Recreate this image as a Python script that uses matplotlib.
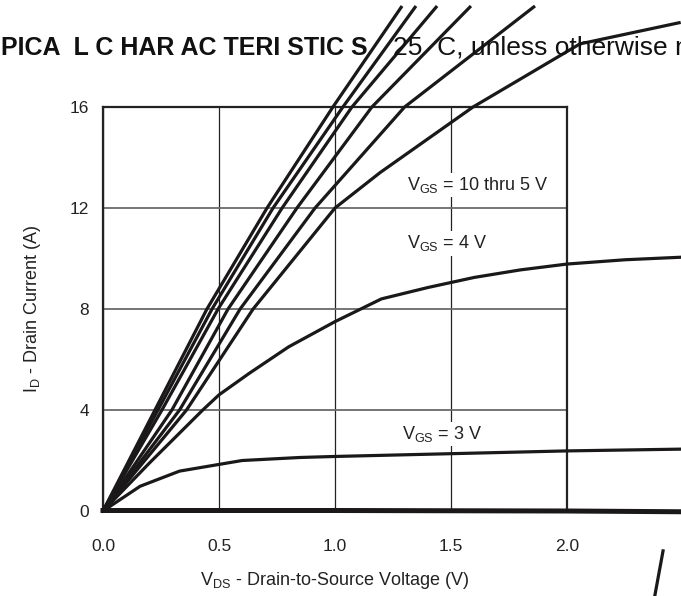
#!/usr/bin/env python3

import matplotlib; matplotlib.use('Agg')
import matplotlib.pyplot as plt

plt.rcParams['font.family'] = ['Liberation Sans', 'DejaVu Sans']
plt.rcParams['mathtext.fontset'] = 'custom'
plt.rcParams['mathtext.rm'] = 'Liberation Sans'

# Output characteristics (V_DS in V, I_D in A)
steep_curves = [
  ([0, 0.224, 0.448, 0.707, 0.991, 1.289], [0, 4, 8, 12, 16, 20]),
  ([0, 0.237, 0.470, 0.733, 1.034, 1.349], [0, 4, 8, 12, 16, 20]),
  ([0, 0.254, 0.496, 0.772, 1.073, 1.440], [0, 4, 8, 12, 16, 20]),
  ([0, 0.297, 0.539, 0.836, 1.159, 1.586], [0, 4, 8, 12, 16, 20]),
  ([0, 0.330, 0.591, 0.914, 1.300, 1.862], [0, 4, 8, 12, 16, 20]),
  ([0, 0.360, 0.647, 1.000, 1.194, 1.595, 2.056, 2.49], [0, 4, 8, 12, 13.4, 16, 18.5, 19.35]),
]
vgs4_v = [0, 0.2, 0.43, 0.5, 0.63, 0.8, 1.0, 1.2, 1.4, 1.6, 1.8, 2.0, 2.25, 2.49]
vgs4_i = [0, 1.9, 4.0, 4.6, 5.45, 6.5, 7.5, 8.4, 8.85, 9.25, 9.55, 9.78, 9.95, 10.05]
vgs3_v = [0, 0.16, 0.33, 0.6, 0.85, 1.0, 1.5, 2.0, 2.49]
vgs3_i = [0, 0.98, 1.58, 2.0, 2.12, 2.16, 2.27, 2.38, 2.45]
vgs_off_v = [0, 1.0, 2.0, 2.49]
vgs_off_i = [0.02, 0.02, 0.0, -0.03]
# piece of the neighbouring panel that shows at the bottom right
next_panel_v = [2.414, 2.379]
next_panel_i = [-1.58, -3.33]

xticks = [0, 0.5, 1.0, 1.5, 2.0]
xtick_labels = ['0.0', '0.5', '1.0', '1.5', '2.0']
yticks = [0, 4, 8, 12, 16]

labels = [
  (r'V$_{\mathrm{GS}}$ = 10 thru 5 V', 1.31, 12.9),
  (r'V$_{\mathrm{GS}}$ = 4 V', 1.31, 10.6),
  (r'V$_{\mathrm{GS}}$ = 3 V', 1.29, 3.05),
]

fig = plt.figure(figsize = [6.81, 5.96], dpi = 100)
ax = fig.add_axes([103 / 681, 1 - 511 / 596, 464 / 681, 404 / 596])
ax.set_xlim(0, 2.0)
ax.set_ylim(0, 16)

ink = '#1a1818'
for v, i in steep_curves:
  ax.plot(v, i, color = ink, lw = 2.3, clip_on = False, zorder = 4, solid_capstyle = 'butt')
ax.plot(vgs4_v, vgs4_i, color = ink, lw = 2.3, clip_on = False, zorder = 4)
ax.plot(vgs3_v, vgs3_i, color = ink, lw = 2.3, clip_on = False, zorder = 4)
ax.plot(vgs_off_v, vgs_off_i, color = ink, lw = 3.6, clip_on = False, zorder = 4)
ax.plot(next_panel_v, next_panel_i, color = ink, lw = 2.3, clip_on = False, zorder = 4)

# grid: gray horizontals, thin black verticals
ax.set_xticks(xticks)
ax.set_xticklabels(xtick_labels)
ax.set_yticks(yticks)
ax.yaxis.grid(True, color = '#6a6a6a', lw = 1.3)
ax.xaxis.grid(True, color = '#222222', lw = 0.9)
ax.set_axisbelow(True)
ax.tick_params(length = 0, labelsize = 12.5, colors = '#222222')
ax.tick_params(axis = 'x', pad = 20)
ax.tick_params(axis = 'y', pad = 10)
for s in ax.spines.values():
  s.set_linewidth(1.6)
  s.set_color('#222222')

for txt, x, y in labels:
  ax.text(x, y, txt, fontsize = 13, color = '#222222', ha = 'left', va = 'center', zorder = 3,
          bbox = dict(facecolor = 'white', edgecolor = 'none', pad = 1.5))

ax.set_xlabel(r'V$_{\mathrm{DS}}$ - Drain-to-Source Voltage (V)', fontsize = 13, color = '#222222')
ax.set_ylabel(r'I$_{\mathrm{D}}$ - Drain Current (A)', fontsize = 13, color = '#222222')
ax.xaxis.set_label_coords(0.5, -0.145)
ax.yaxis.set_label_coords(-0.13, 0.5)

# cropped page heading above the panel
fig.text(1 / 681, 1 - 55 / 596, 'PICA  L C HAR AC TERI STIC S', fontsize = 18, fontweight = 'bold',
         ha = 'left', va = 'baseline', color = '#111111')
fig.text(393 / 681, 1 - 55 / 596, '25  C, unless otherwise noted)', fontsize = 19,
         ha = 'left', va = 'baseline', color = '#111111')

fig.savefig('out.png', dpi = 100)
